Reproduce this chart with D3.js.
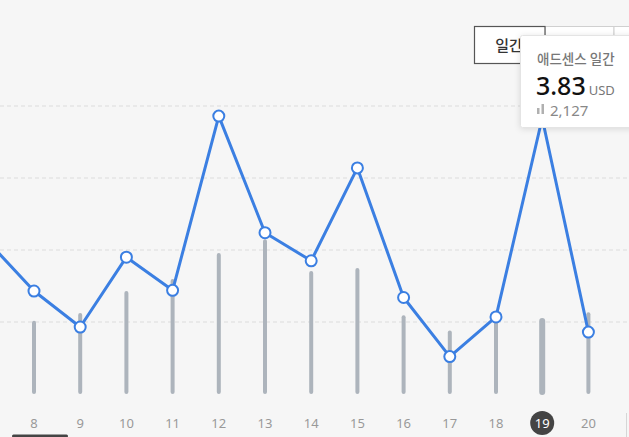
<!DOCTYPE html>
<html><head><meta charset="utf-8">
<script src="https://cdn.jsdelivr.net/npm/d3@7/dist/d3.min.js"></script>
<style>
html,body{margin:0;padding:0;background:#f6f6f6;}
svg{display:block;}
</style></head>
<body>
<svg id="c" width="629" height="437"></svg>
<script>
const days = [7, 8, 9, 10, 11, 12, 13, 14, 15, 16, 17, 18, 19, 20];
const revenue = [2.12, 1.43, 0.93, 1.90, 1.44, 3.86, 2.24, 1.85, 3.14, 1.34, 0.52, 1.07, 3.83, 0.86];
const pageviews = [2500, 2080, 2300, 2920, 3260, 4000, 4390, 3490, 3570, 2230, 1800, 2070, 2127, 2320];
const xLabels = [8, 9, 10, 11, 12, 13, 14, 15, 16, 17, 18, 19, 20];
const yTicks = [1, 2, 3, 4];
const selectedDay = 19;
const tooltipTitle = "애드센스 일간";
const tooltipUnit = "USD";
const periodLabels = ["일간", "", ""];

const svg = d3.select("#c");
const W = 629, H = 437;
const base = 394;

const x = d3.scaleLinear().domain([8, 20]).range([34, 588.4]);
const y = d3.scaleLinear().domain([0, 5]).range([base, 34]);
const y2 = d3.scaleLinear().domain([0, 10210]).range([base, 34]);

svg.append("rect").attr("width", W).attr("height", H).attr("fill", "#f6f6f6");

// gridlines
svg.append("g").selectAll("line").data(yTicks).join("line")
  .attr("x1", 0).attr("x2", W)
  .attr("y1", d => y(d)).attr("y2", d => y(d))
  .attr("stroke", "#dcdcdc").attr("stroke-width", 1).attr("stroke-dasharray", "4,3");

// bars
svg.append("g").selectAll("line").data(days.map((d, i) => ({d, v: pageviews[i]}))).join("line")
  .attr("x1", d => x(d.d)).attr("x2", d => x(d.d))
  .attr("y1", d => y2(0) - 2).attr("y2", d => y2(d.v) + 2)
  .attr("stroke", "#adb4bc")
  .attr("stroke-width", d => d.d === selectedDay ? 6 : 4)
  .attr("stroke-linecap", "round");

// line
const pts = days.map((d, i) => ({d, v: revenue[i]}));
svg.append("path").datum(pts)
  .attr("fill", "none").attr("stroke", "#3b7fe2").attr("stroke-width", 3)
  .attr("stroke-linejoin", "round")
  .attr("d", d3.line().x(p => x(p.d)).y(p => y(p.v)));

svg.append("g").selectAll("circle").data(pts).join("circle")
  .attr("cx", p => x(p.d)).attr("cy", p => y(p.v)).attr("r", 5.5)
  .attr("fill", "#fff").attr("stroke", "#3b7fe2").attr("stroke-width", 2);

// x axis labels
const xl = svg.append("g");
xl.append("circle").attr("cx", x(selectedDay)).attr("cy", 423).attr("r", 12).attr("fill", "#444");
xl.selectAll("text").data(xLabels).join("text")
  .attr("x", d => x(d)).attr("y", 428)
  .attr("text-anchor", "middle")
  .attr("font-family", "'Noto Sans', 'Noto Sans CJK KR', sans-serif")
  .attr("font-size", 13)
  .attr("fill", d => d === selectedDay ? "#fff" : "#999")
  .text(d => d);

// bottom-left tab line and right edge line
svg.append("rect").attr("x", 12).attr("y", 434.5).attr("width", 56).attr("height", 3).attr("rx", 1.5).attr("fill", "#444");
svg.append("line").attr("x1", 626.5).attr("x2", 626.5).attr("y1", 413).attr("y2", 437).attr("stroke", "#d6d6d6");

// period buttons
const bg = svg.append("g");
bg.append("rect").attr("x", 545).attr("y", 26.5).attr("width", 69).attr("height", 37).attr("fill", "#fff").attr("stroke", "#d0d0d0");
bg.append("rect").attr("x", 614).attr("y", 26.5).attr("width", 69).attr("height", 37).attr("fill", "#fff").attr("stroke", "#d0d0d0");
bg.append("rect").attr("x", 474.5).attr("y", 26.5).attr("width", 70.5).attr("height", 37).attr("fill", "#fff").attr("stroke", "#555").attr("stroke-width", 1.2);
bg.append("text").attr("x", 509).attr("y", 51).attr("text-anchor", "middle")
  .attr("font-family", "'Noto Sans CJK KR', sans-serif").attr("font-size", 15).attr("font-weight", 500)
  .attr("fill", "#333").text(periodLabels[0]);

// tooltip
const i19 = days.indexOf(selectedDay);
const tg = svg.append("g");
tg.append("rect").attr("x", 520.5).attr("y", 35.5).attr("width", 130).attr("height", 92)
  .attr("fill", "#fff").attr("stroke", "#e4e4e4").attr("rx", 2)
  .style("filter", "drop-shadow(0 1px 3px rgba(0,0,0,0.12))");
tg.append("text").attr("x", 537).attr("y", 64)
  .attr("font-family", "'Noto Sans CJK KR', sans-serif").attr("font-size", 13.5).attr("font-weight", 500)
  .attr("fill", "#777").text(tooltipTitle);
const vt = tg.append("text").attr("x", 536).attr("y", 95)
  .attr("font-family", "'Noto Sans', sans-serif");
vt.append("tspan").attr("font-size", 25).attr("font-weight", 500).attr("fill", "#111")
  .text(d3.format(".2f")(revenue[i19]));
vt.append("tspan").attr("dx", 3).attr("font-size", 13).attr("fill", "#777").text(tooltipUnit);
// small bar icon
tg.append("rect").attr("x", 537).attr("y", 108).attr("width", 2.5).attr("height", 6).attr("fill", "#b0b0b0");
tg.append("rect").attr("x", 541.5).attr("y", 104).attr("width", 2.5).attr("height", 10).attr("fill", "#b0b0b0");
tg.append("text").attr("x", 550).attr("y", 116)
  .attr("font-family", "'Noto Sans', sans-serif").attr("font-size", 15)
  .attr("fill", "#888").text(d3.format(",")(pageviews[i19]));
</script>
</body></html>
